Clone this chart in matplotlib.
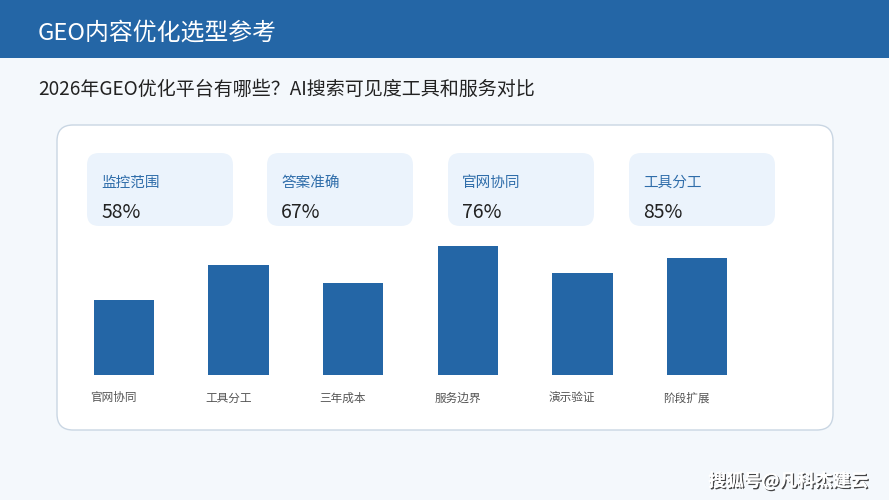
import matplotlib
matplotlib.use("Agg")
import matplotlib.pyplot as plt
from matplotlib.patches import FancyBboxPatch, Rectangle
import matplotlib.patheffects as pe

plt.rcParams['font.family'] = ['Noto Sans CJK SC', 'DejaVu Sans']

title = "GEO内容优化选型参考"
subtitle = "2026年GEO优化平台有哪些？AI搜索可见度工具和服务对比"
kpi_labels = ["监控范围", "答案准确", "官网协同", "工具分工"]
kpi_values = ["58%", "67%", "76%", "85%"]
categories = ["官网协同", "工具分工", "三年成本", "服务边界", "演示验证", "阶段扩展"]
values = [58, 85, 71, 100, 79, 91]
watermark = "搜狐号@凡科杰建云"

W, H = 889, 500
BLUE = "#2466A6"
BG = "#F4F8FC"

fig = plt.figure(figsize=(W / 100, H / 100), dpi=100, facecolor=BG)
bg = fig.add_axes([0, 0, 1, 1])
bg.set_xlim(0, W)
bg.set_ylim(H, 0)
bg.axis("off")

# header band
bg.add_patch(Rectangle((0, 0), W, 58, facecolor=BLUE, edgecolor="none"))
bg.text(38, 33, title, color="white", fontsize=17.2, va="center", ha="left")
bg.text(38, 89, subtitle, color="#222222", fontsize=13.7, va="center", ha="left")

# main card
bg.add_patch(FancyBboxPatch((57, 125), 776, 305,
                            boxstyle="round,pad=0,rounding_size=16",
                            facecolor="white", edgecolor="#C9D6E3", linewidth=1.0))

# KPI boxes
kpi_x = [87, 267, 448, 629]
for x, lab, val in zip(kpi_x, kpi_labels, kpi_values):
    bg.add_patch(FancyBboxPatch((x, 153), 146, 73,
                                boxstyle="round,pad=0,rounding_size=12",
                                facecolor="#EBF3FC", edgecolor="none"))
    bg.text(x + 14, 183, lab, color="#2F6DAA", fontsize=10.5, va="center", ha="left")
    bg.text(x + 14, 212, val, color="#222222", fontsize=14, va="center", ha="left")

# watermark
bg.text(868, 481, watermark, color="white", fontsize=12.8, fontweight="bold",
        va="center", ha="right",
        path_effects=[pe.withSimplePatchShadow(offset=(1, -1), shadow_rgbFace="#333333", alpha=0.9),
                      pe.Normal()])

# bar chart axes: slots of 114.6 px, first centre at x=124, baseline y=375, 100 -> 129 px
left_px, right_px = 66.7, 754.3
base_px, top_px = 375, 246
ax = fig.add_axes([left_px / W, (H - base_px) / H, (right_px - left_px) / W, (base_px - top_px) / H])
ax.patch.set_alpha(0)
ax.set_xlim(-0.5, 5.5)
ax.set_ylim(0, 100)
ax.axis("off")
bw = 0.528
xs = list(range(len(categories)))
ax.bar(xs, values, width=bw, color=BLUE, edgecolor="none")
for i, c in zip(xs, categories):
    ax.annotate(c, xy=(i - bw / 2, 0), xycoords="data", xytext=(-2.4, -16.5),
                textcoords="offset points", ha="left", va="center",
                fontsize=8.4, color="#555555", annotation_clip=False)

fig.savefig("out.png", dpi=100, facecolor=BG)
